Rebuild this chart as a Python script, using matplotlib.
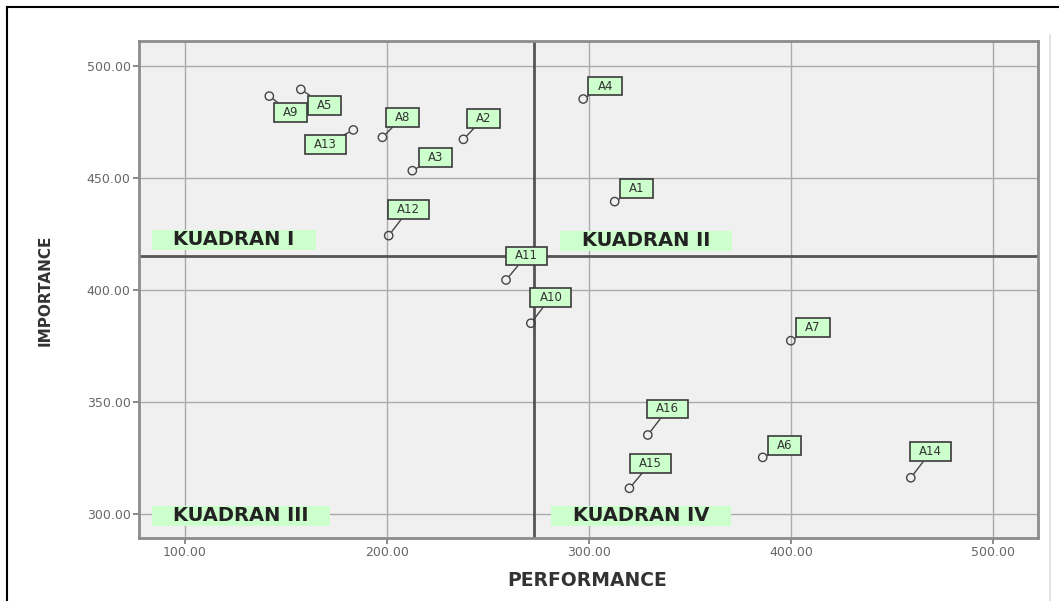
import matplotlib
matplotlib.use("Agg")
import matplotlib.pyplot as plt
from matplotlib.path import Path
from matplotlib.lines import Line2D

# ---- data ----
labels = ["A1", "A2", "A3", "A4", "A5", "A6", "A7", "A8",
          "A9", "A10", "A11", "A12", "A13", "A14", "A15", "A16"]
performance = [312.7, 237.8, 212.5, 297.1, 157.3, 386.0, 399.9, 197.7,
               141.7, 271.2, 258.9, 200.8, 183.3, 459.3, 320.0, 329.1]
importance = [439.6, 467.4, 453.4, 485.4, 489.7, 325.4, 377.5, 468.3,
              486.7, 385.3, 404.6, 424.4, 471.6, 316.3, 311.6, 335.4]
perf_ref = sum(performance) / len(performance)
imp_ref = sum(importance) / len(importance)
x_ticks = [100, 200, 300, 400, 500]
y_ticks = [300, 350, 400, 450, 500]
quadrants = ["KUADRAN I", "KUADRAN II", "KUADRAN III", "KUADRAN IV"]

# label offsets in pixels (layout only)
offsets = {"A1": (22, 13), "A2": (20, 21), "A3": (23, 13), "A4": (22, 13),
           "A5": (24, -16), "A6": (22, 12), "A7": (22, 13), "A8": (20, 20),
           "A9": (21, -16), "A10": (20, 26), "A11": (20, 24), "A12": (20, 26),
           "A13": (-28, -15), "A14": (20, 26), "A15": (21, 25), "A16": (20, 26)}
quad_pos = [(0.1057, 0.5996), (0.5640, 0.5976), (0.1135, 0.0443), (0.5584, 0.0443)]


def wide_box(padx, pady):
    def style(x0, y0, width, height, mutation_size):
        px = padx * mutation_size
        py = pady * mutation_size
        xa, ya = x0 - px, y0 - py
        xb, yb = x0 + width + px, y0 + height + py
        return Path([(xa, ya), (xb, ya), (xb, yb), (xa, yb), (xa, ya)],
                    [Path.MOVETO, Path.LINETO, Path.LINETO, Path.LINETO, Path.CLOSEPOLY])
    return style


fig = plt.figure(figsize=(10.59, 6.01), dpi=100)
ax = fig.add_axes([0.1313, 0.1048, 0.8489, 0.8270])
ax.set_facecolor("#f0f0f0")
ax.set_xlim(77.2, 522.3)
ax.set_ylim(289.4, 511.3)
ax.set_xticks(x_ticks)
ax.set_yticks(y_ticks)
ax.set_xticklabels([f"{v:.2f}" for v in x_ticks])
ax.set_yticklabels([f"{v:.2f}" for v in y_ticks])
ax.tick_params(axis="both", colors="#777777", labelsize=9, length=4, width=1.2,
               labelcolor="#666666", pad=2)
ax.grid(True, color="#aaaaaa", linewidth=1.0)
ax.set_axisbelow(True)
for s in ax.spines.values():
    s.set_color("#8c8c8c")
    s.set_linewidth(2.0)

ax.axvline(perf_ref, color="#555555", linewidth=2.0, zorder=2)
ax.axhline(imp_ref, color="#555555", linewidth=2.0, zorder=2)

ax.scatter(performance, importance, s=36, facecolors="none",
           edgecolors="#444444", linewidths=1.0, zorder=4)

for lab, x, y in zip(labels, performance, importance):
    dx, dy = offsets[lab]
    ax.annotate(lab, (x, y), xytext=(dx, dy), textcoords="offset pixels",
                ha="center", va="center", fontsize=8.5, color="#333333",
                bbox=dict(boxstyle=wide_box(0.76, 0.25), facecolor="#ccffcc",
                          edgecolor="#3a3a3a", linewidth=1.2),
                arrowprops=dict(arrowstyle="-", color="#444444", lw=1.0,
                                shrinkA=0, shrinkB=3.5),
                zorder=5)

for q, (qx, qy) in zip(quadrants, quad_pos):
    ax.text(qx, qy, q, transform=ax.transAxes, ha="center", va="center",
            fontsize=14, fontweight="bold", color="#222222",
            bbox=dict(boxstyle=wide_box(1.1, 0.03), facecolor="#ccffcc",
                      edgecolor="none"), zorder=5)

fig.text(587 / 1059, 1 - 580 / 601, "PERFORMANCE", ha="center", va="center",
         fontsize=13.5, fontweight="bold", color="#333333")
fig.text(45 / 1059, 1 - 290 / 601, "IMPORTANCE", ha="center", va="center",
         rotation=90, fontsize=11, fontweight="bold", color="#333333")

# outer frame (top and left black lines, faint right line)
fig.add_artist(Line2D([7 / 1059, 1.0], [1 - 7 / 601, 1 - 7 / 601],
                      transform=fig.transFigure, color="black", lw=1.5))
fig.add_artist(Line2D([7 / 1059, 7 / 1059], [0.0, 1 - 7 / 601],
                      transform=fig.transFigure, color="black", lw=1.5))
fig.add_artist(Line2D([1050 / 1059, 1050 / 1059], [0.0, 1 - 35 / 601],
                      transform=fig.transFigure, color="#dddddd", lw=1.2))

fig.savefig("out.png", dpi=100)
